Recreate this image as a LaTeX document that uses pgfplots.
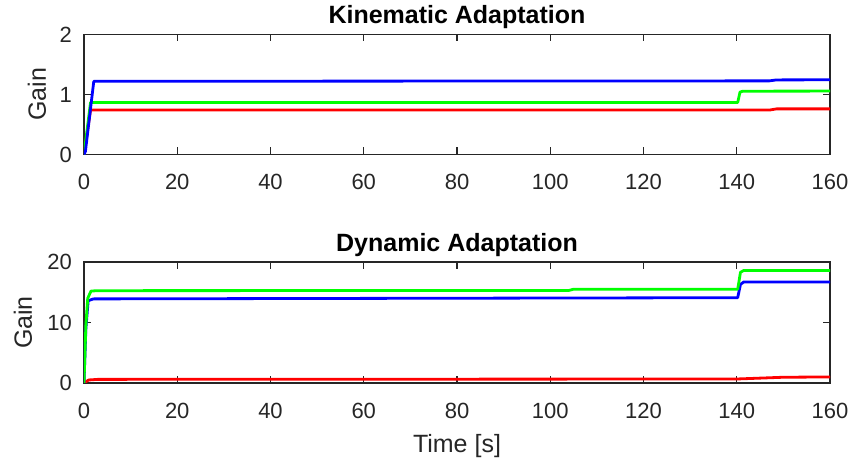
\documentclass[border=0pt]{standalone}
\usepackage{pgfplots}
\pgfplotsset{compat=1.18}
\usepackage{fontspec}
\setmainfont{Liberation Sans}

\definecolor{axgray}{RGB}{38,38,38}
\definecolor{mblue}{RGB}{0,0,255}
\definecolor{mgreen}{RGB}{0,255,0}
\definecolor{mred}{RGB}{255,0,0}

\pgfplotsset{
  gainaxis/.style={
    scale only axis,
    width=746pt,
    xmin=0, xmax=160,
    xtick={0,20,...,160},
    axis line style={axgray, line width=1.1pt},
    every tick/.style={axgray, line width=1.1pt},
    major tick length=7pt,
    tick align=inside,
    /pgf/number format/assume math mode=true,
    tick label style={font=\fontsize{22}{26}\selectfont, text=axgray},
    xticklabel style={anchor=base, yshift=-35.5pt},
    yticklabel style={anchor=east, inner sep=0pt, xshift=-12pt},
    title style={font=\fontsize{25}{30}\selectfont\bfseries, at={(axis description cs:0.5,1)}, anchor=base, yshift=4.5pt},
    label style={font=\fontsize{25}{30}\selectfont, text=axgray},
    ylabel={Gain},
    every axis plot/.append style={line width=2.8pt, line join=round},
  }
}

\begin{document}
\begin{tikzpicture}
\path[use as bounding box] (0,0) rectangle (854pt,462pt);

% Kinematic adaptation gains
\begin{axis}[gainaxis,
  at={(84pt,307.5pt)}, anchor=south west,
  height=120pt,
  ymin=0, ymax=2, ytick={0,1,2},
  title={Kinematic Adaptation},
  ylabel style={at={(axis description cs:0,0.5)}, anchor=center, yshift=47pt},
]
\addplot[mred] coordinates {(0,0) (1.4,0.74) (147,0.74) (148.5,0.76) (160,0.76)};
\addplot[mgreen] coordinates {(0,0) (1.4,0.867) (140.2,0.867) (140.7,1.04) (141.3,1.055) (160,1.057)};
\addplot[mblue] coordinates {(0,0) (0.3,0.05) (2.1,1.22) (147,1.227) (148.5,1.243) (160,1.245)};
\end{axis}

% Dynamic adaptation gains
\begin{axis}[gainaxis,
  at={(84pt,79pt)}, anchor=south west,
  height=121pt,
  ymin=0, ymax=20, ytick={0,10,20},
  title={Dynamic Adaptation},
  xlabel={Time [s]},
  xlabel style={at={(axis description cs:0.5,0)}, anchor=base, yshift=-69.5pt},
  ylabel style={at={(axis description cs:0,0.5)}, anchor=center, yshift=61pt},
]
\addplot[mred] coordinates {(0,0) (1,0.5) (3,0.6) (140,0.66) (150,0.95) (160,1.0)};
\addplot[mblue] coordinates {(0,0) (0.4,9) (0.9,13.6) (2,13.9) (140.2,14.1) (140.8,16.3) (141.5,16.7) (160,16.7)};
\addplot[mgreen] coordinates {(0,0) (0.4,9.5) (0.8,14) (1.5,15.2) (3,15.26) (104,15.3) (105,15.5) (140.2,15.5) (140.8,18.3) (141.5,18.6) (160,18.6)};
\end{axis}
\end{tikzpicture}
\end{document}
